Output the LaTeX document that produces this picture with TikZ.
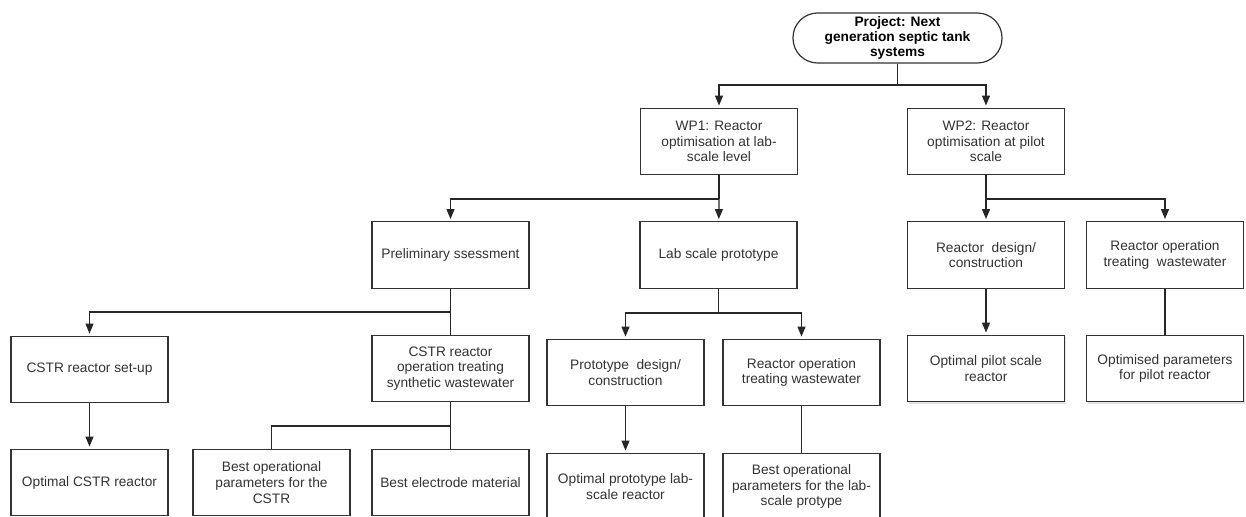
\documentclass[tikz,border=0pt]{standalone}
\usepackage{fontspec}
\setmainfont{Liberation Sans}
\usetikzlibrary{arrows.meta,shadows}

\begin{document}
\begin{tikzpicture}[x=0.75pt, y=-0.75pt,
  box/.style={draw=black!80, line width=0.9pt, fill=white, text=black!80, align=center,
    minimum width=117.75pt, minimum height=50pt, inner sep=2pt,
    font=\fontsize{10.3}{11.8}\selectfont},
  shd/.style={drop shadow={opacity=0.22, shadow xshift=0.9pt, shadow yshift=-1.6pt}},
  lin/.style={draw=black!85, line width=0.9pt},
  arr/.style={lin, -{Triangle[width=6pt,length=7.5pt]}, shorten >=1.5pt}
]
\useasboundingbox (0,0) rectangle (1246,517);

% root
\node[box, rounded corners=18.5pt, minimum width=156.75pt, minimum height=37.5pt, inner sep=1pt,
  text=black, font=\bfseries\fontsize{10.3}{11.25}\selectfont]
  (proj) at (897.5,38) {Project: Next\\generation septic tank\\systems};

% work packages
\node[box] (wp1) at (719,141.5) {WP1: Reactor\\optimisation at lab-\\scale level};
\node[box] (wp2) at (986,141.5) {WP2: Reactor\\optimisation at pilot\\scale};

% tasks
\node[box] (prelim) at (450.5,255) {Preliminary ssessment};
\node[box] (lab) at (718.5,255) {Lab scale prototype};
\node[box] (rdes) at (986,255) {Reactor\ \ design/\\construction};
\node[box] (ropp) at (1165,255) {Reactor operation\\treating\ \ wastewater};
\node[box] (cstrset) at (89.5,369.5) {CSTR reactor set-up};
\node[box] (cstrop) at (450.5,368.5) {CSTR reactor\\operation treating\\synthetic wastewater};
\node[box] (protodes) at (625.5,372.5) {Prototype\ \ design/\\construction};
\node[box] (roplab) at (801.5,372.5) {Reactor operation\\treating wastewater};

% outcomes
\node[box] (optcstr) at (89.5,482.5) {Optimal CSTR reactor};
\node[box] (bestpar) at (271.5,482.5) {Best operational\\parameters for the\\CSTR};
\node[box] (bestel) at (450.5,482.5) {Best electrode material};
\node[box] (optproto) at (625.5,486.5) {Optimal prototype lab-\\scale reactor};
\node[box] (bestlab) at (801.5,486.5) {Best operational\\parameters for the lab-\\scale protype};
\node[box, shd] (optpilot) at (986,368.5) {Optimal pilot scale\\reactor};
\node[box, shd] (optpar) at (1165,368.5) {Optimised parameters\\for pilot reactor};

% branch points
\coordinate (b0) at (897.5,85);
\coordinate (b1) at (719,199);
\coordinate (b2) at (986,199);
\coordinate (b3) at (450.5,312);
\coordinate (b4) at (718.5,313);
\coordinate (b5) at (450.5,426);

\draw[lin] (proj) -- (b0);
\draw[arr] (b0) -| (wp1);
\draw[arr] (b0) -| (wp2);

\draw[lin] (wp1) -- (b1);
\draw[arr] (b1) -| (prelim);
\draw[arr] (b1) -- (lab);

\draw[lin] (wp2) -- (b2);
\draw[arr] (b2) -- (rdes);
\draw[arr] (b2) -| (ropp);

\draw[lin] (prelim) -- (cstrop);
\draw[arr] (b3) -| (cstrset);

\draw[lin] (lab) -- (b4);
\draw[arr] (b4) -| (protodes);
\draw[arr] (b4) -| (roplab);

\draw[lin] (cstrop) -- (bestel);
\draw[lin] (b5) -| (bestpar);

\draw[arr] (cstrset) -- (optcstr);
\draw[arr] (protodes) -- (optproto);
\draw[lin] (roplab) -- (bestlab);
\draw[arr] (rdes) -- (optpilot);
\draw[lin] (ropp) -- (optpar);
\end{tikzpicture}
\end{document}
